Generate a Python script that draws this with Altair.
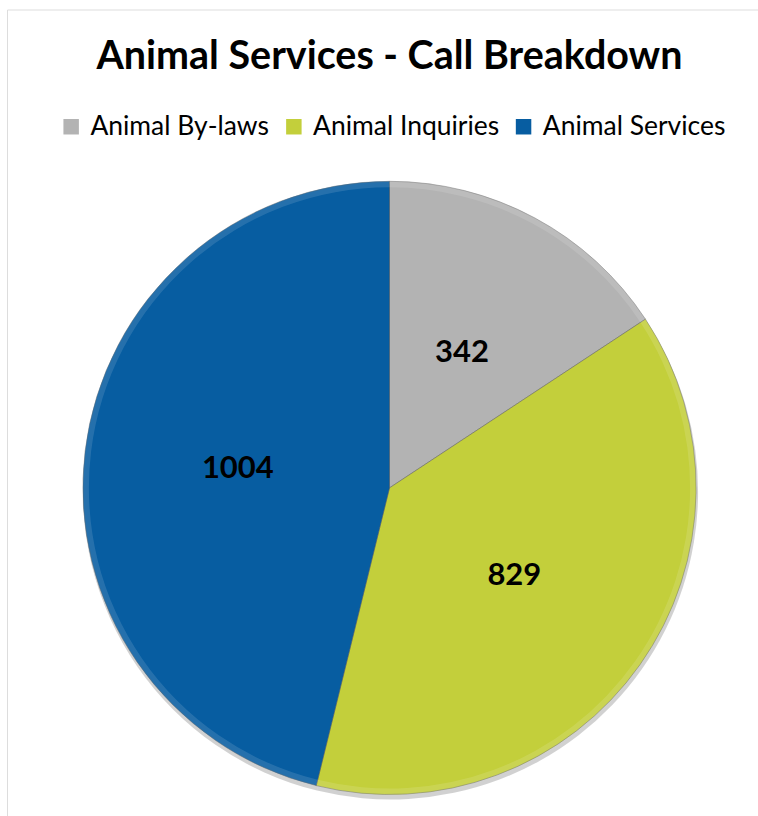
import altair as alt
import pandas as pd

categories = ["Animal By-laws", "Animal Inquiries", "Animal Services"]
calls = [342, 829, 1004]
colors = ["#b3b3b3", "#c3cf3b", "#075da1"]

df = pd.DataFrame({"category": categories, "calls": calls, "order": [0, 1, 2]})

W, H = 752, 808
cx, cy = 383, 479

base = alt.Chart(df).encode(
    theta=alt.Theta("calls:Q", stack=True),
    order=alt.Order("order:Q"),
)

color = alt.Color(
    "category:N",
    scale=alt.Scale(domain=categories, range=colors),
    legend=alt.Legend(
        title=None,
        orient="none",
        direction="horizontal",
        legendX=51,
        legendY=104,
        symbolType="square",
        symbolSize=240,
        symbolStrokeWidth=0,
        labelFontSize=26.5,
        labelFont="Lato",
        labelColor="#000000",
        labelLimit=0,
        labelOffset=6,
        columnPadding=11,
    ),
)

shadow = base.mark_arc(radius=308, color="#000000", opacity=0.18, stroke=None).encode(
    x=alt.value(cx + 1), y=alt.value(cy + 4)
)

pie = base.mark_arc(radius=307, stroke="#555555", strokeWidth=0.8, strokeOpacity=0.5).encode(
    color=color, x=alt.value(cx), y=alt.value(cy)
)

rim = base.mark_arc(radius=307, radius2=301, color="#ffffff", opacity=0.12, stroke=None).encode(
    x=alt.value(cx), y=alt.value(cy)
)

labels = base.mark_text(
    radius=153, font="Lato", fontSize=31, fontWeight="bold", color="#000000"
).encode(text=alt.Text("calls:Q"), x=alt.value(cx), y=alt.value(cy))

chart = (
    alt.layer(shadow, pie, rim, labels)
    .properties(
        width=W,
        height=H,
        title=alt.TitleParams(
            "Animal Services - Call Breakdown",
            font="Lato",
            fontSize=39.5,
            fontWeight="bold",
            color="#000000",
            anchor="middle",
            baseline="alphabetic",
            offset=0,
            dy=99,
            dx=7,
        ),
        autosize=alt.AutoSizeParams(type="none"),
        padding={"left": 7, "top": 9, "right": 0, "bottom": 0},
    )
    .configure_view(stroke="#d9d9d9", strokeWidth=1.5)
    .configure(background="#ffffff")
)

chart.save("out.html", embed_options={"renderer": "svg", "actions": False})
